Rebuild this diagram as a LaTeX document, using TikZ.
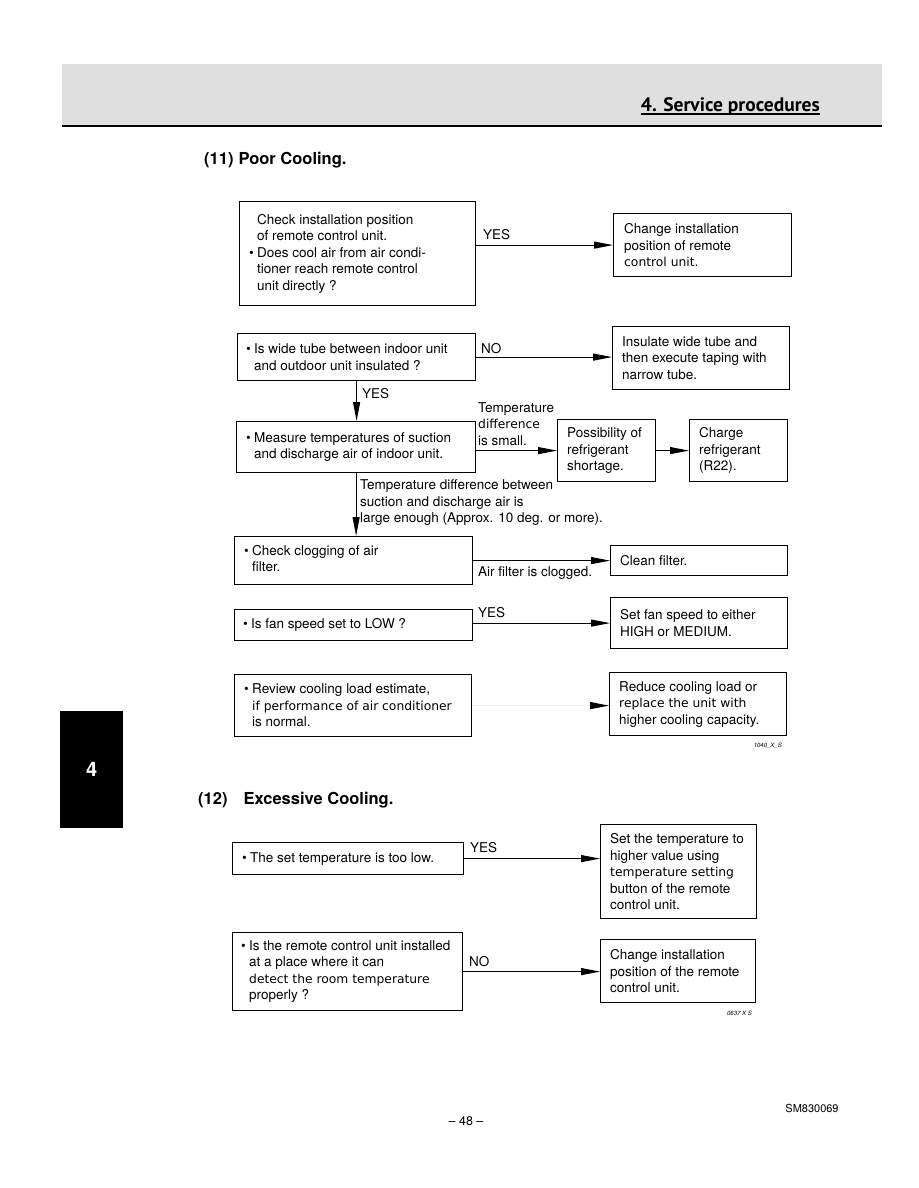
\documentclass[tikz,border=0pt]{standalone}
\usepackage{graphicx}
\usepackage{fontspec}
\setmainfont{TeX Gyre Heros}
\newfontfamily\hdrfont{PT Sans}
\newfontfamily\widefont{DejaVu Sans}
\usetikzlibrary{arrows.meta}
\newcommand\bul{\makebox[8pt][l]{\textbullet}}
\newcommand\ind{\hspace*{8pt}}
\newcommand\wf{\widefont\fontsize{12.3}{16.5}\selectfont}
\tikzset{
 box/.style={draw, line width=1.2pt, anchor=north west, inner sep=0pt},
 txt/.style={anchor=west, align=left, inner sep=0pt, font=\fontsize{13.5}{16.5}\selectfont},
 lbl/.style={anchor=west, align=left, inner sep=0pt, font=\fontsize{13.5}{16.5}\selectfont},
 arr/.style={line width=1pt, -{Triangle[length=19pt,width=7pt]}},
 faintarr/.style={line width=1pt, draw=gray!12, -{Triangle[length=19pt,width=7pt,color=black]}},
}
\begin{document}
\begin{tikzpicture}[x=1pt,y=-1pt]
\useasboundingbox (0,0) rectangle (918,1188);
\fill[white] (0,0) rectangle (918,1188);
% header band
\fill[gray!25] (62,64) rectangle (882,126);
\draw[line width=2pt] (62,126) -- (882,126);
\node[anchor=east, inner sep=0pt, font=\hdrfont\bfseries\fontsize{19.5}{22}\selectfont] (hdr) at (820,106) {4. Service procedures};
\draw[line width=1.3pt] ([yshift=-3pt]hdr.base west) -- ([yshift=-3pt]hdr.base east);
% titles
\node[anchor=west, inner sep=0pt, font=\bfseries\fontsize{16.5}{19}\selectfont] (t11) at (204,160) {(11)\hspace{5pt}Poor Cooling.};
\node[anchor=west, inner sep=0pt, font=\bfseries\fontsize{16.5}{19}\selectfont] (t12) at (198,800) {(12)\hspace{16pt}Excessive Cooling.};
% side tab
\node[fill=black, minimum width=63pt, minimum height=117pt, anchor=north west, text=white, font=\bfseries\fontsize{20}{24}\selectfont] (tab) at (60,711) {4};

% boxes (11)
\node[box, minimum width=236pt, minimum height=104pt] (a1) at (239,201) {};
\node[txt] (a1t) at ([xshift=10pt]a1.west) {\ind Check installation position\\ \ind of remote control unit.\\ \bul Does cool air from air condi-\\ \ind tioner reach remote control\\ \ind unit directly ?};
\node[box, minimum width=178pt, minimum height=63pt] (a2) at (613,213) {};
\node[txt] (a2t) at ([xshift=11pt]a2.west) {Change installation\\position of remote\\{\wf control unit.}};

\node[box, minimum width=238pt, minimum height=47pt] (b1) at (237,333) {};
\node[txt] (b1t) at ([xshift=9pt]b1.west) {\bul Is wide tube between indoor unit\\ \ind and outdoor unit insulated ?};
\node[box, minimum width=177pt, minimum height=63pt] (b2) at (612,326) {};
\node[txt] (b2t) at ([xshift=10pt]b2.west) {Insulate wide tube and\\then execute taping with\\narrow tube.};

\node[box, minimum width=239pt, minimum height=51pt] (b3) at (236,421) {};
\node[txt] (b3t) at ([xshift=10pt]b3.west) {\bul Measure temperatures of suction\\ \ind and discharge air of indoor unit.};
\node[box, minimum width=98pt, minimum height=62pt] (b4) at (557,419) {};
\node[txt] (b4t) at ([xshift=10pt]b4.west) {Possibility of\\refrigerant\\shortage.};
\node[box, minimum width=98pt, minimum height=62pt] (b5) at (689,419) {};
\node[txt] (b5t) at ([xshift=10pt]b5.west) {Charge\\refrigerant\\(R22).};

\node[box, minimum width=238pt, minimum height=48pt] (c1) at (234,536) {};
\node[txt] (c1t) at ([xshift=10pt,yshift=2pt]c1.west) {\bul Check clogging of air\\ \ind filter.};
\node[box, minimum width=177pt, minimum height=30pt] (c2) at (610,545) {};
\node[txt] (c2t) at ([xshift=10pt]c2.west) {Clean filter.};

\node[box, minimum width=238pt, minimum height=31pt] (d1) at (234,609) {};
\node[txt] (d1t) at ([xshift=9pt]d1.west) {\bul Is fan speed set to LOW ?};
\node[box, minimum width=177pt, minimum height=51pt] (d2) at (610,597) {};
\node[txt] (d2t) at ([xshift=10pt]d2.west) {Set fan speed to either\\HIGH or MEDIUM.};

\node[box, minimum width=237pt, minimum height=62pt] (e1) at (234,674) {};
\node[txt] (e1t) at ([xshift=10pt]e1.west) {\bul Review cooling load estimate,\\ \ind{\wf if performance of air conditioner}\\ \ind is normal.};
\node[box, minimum width=177pt, minimum height=63pt] (e2) at (609,672) {};
\node[txt] (e2t) at ([xshift=10pt]e2.west) {Reduce cooling load or\\{\wf replace the unit with}\\higher cooling capacity.};

% boxes (12)
\node[box, minimum width=231pt, minimum height=32pt] (f1) at (232,842) {};
\node[txt] (f1t) at ([xshift=10pt]f1.west) {\bul The set temperature is too low.};
\node[box, minimum width=156pt, minimum height=94pt] (f2) at (600,824) {};
\node[txt] (f2t) at ([xshift=10pt]f2.west) {Set the temperature to\\higher value using\\{\wf temperature setting}\\button of the remote\\control unit.};

\node[box, minimum width=230pt, minimum height=78pt] (g1) at (232,932) {};
\node[txt] (g1t) at ([xshift=9pt]g1.west) {\bul Is the remote control unit installed\\ \ind at a place where it can\\ \ind{\wf detect the room temperature}\\ \ind properly ?};
\node[box, minimum width=155pt, minimum height=63pt] (g2) at (600,939) {};
\node[txt] (g2t) at ([xshift=10pt]g2.west) {Change installation\\position of the remote\\control unit.};

% connectors
\draw[arr] (a1.east |- a2.west) -- (a2.west);
\draw[arr] (b1.east) -- (b2.west |- b1.east);
\draw[arr] (b1.south) -- (b1.south |- b3.north);
\draw[arr] (b3.east |- b4.west) -- (b4.west);
\draw[arr] (b4.east) -- (b5.west);
\draw[arr] (b3.south) -- (b3.south |- c1.north);
\draw[arr] (c1.east) -- (c2.west |- c1.east);
\draw[arr] (d1.east |- d2.west) -- (d2.west);
\draw[faintarr] (e1.east) -- (e2.west |- e1.east);
\draw[arr] (f1.east) -- (f2.west |- f1.east);
\draw[arr] (g1.east) -- (g2.west |- g1.east);

% connector labels
\node[lbl] (l1) at (483,235) {YES};
\node[lbl] (l2) at (481,349) {NO};
\node[lbl] (l3) at (362,394) {YES};
\node[lbl] (l4) at (478,424) {Temperature\\{\wf difference}\\is small.};
\node[lbl] (l5) at (360,503) {Temperature difference between\\suction and discharge air is\\large enough (Approx. 10 deg. or more).};
\node[lbl] (l6) at (478,573) {Air filter is clogged.};
\node[lbl] (l7) at (478,613) {YES};
\node[lbl] (l8) at (470,848) {YES};
\node[lbl] (l9) at (469,962) {NO};

% small codes and footer
\node[anchor=east, inner sep=0pt, font=\itshape\fontsize{6}{7}\selectfont] (c11) at (782,746) {1040\_X\_S};
\node[anchor=east, inner sep=0pt, font=\itshape\fontsize{6}{7}\selectfont] (c12) at (752,1013) {0637 X S};
\node[inner sep=0pt, font=\fontsize{12.5}{14}\selectfont] (pg) at (466,1121) {-- 48 --};
\node[inner sep=0pt, font=\fontsize{11}{13}\selectfont] (sm) at (812,1108) {SM830069};
\end{tikzpicture}
\end{document}
